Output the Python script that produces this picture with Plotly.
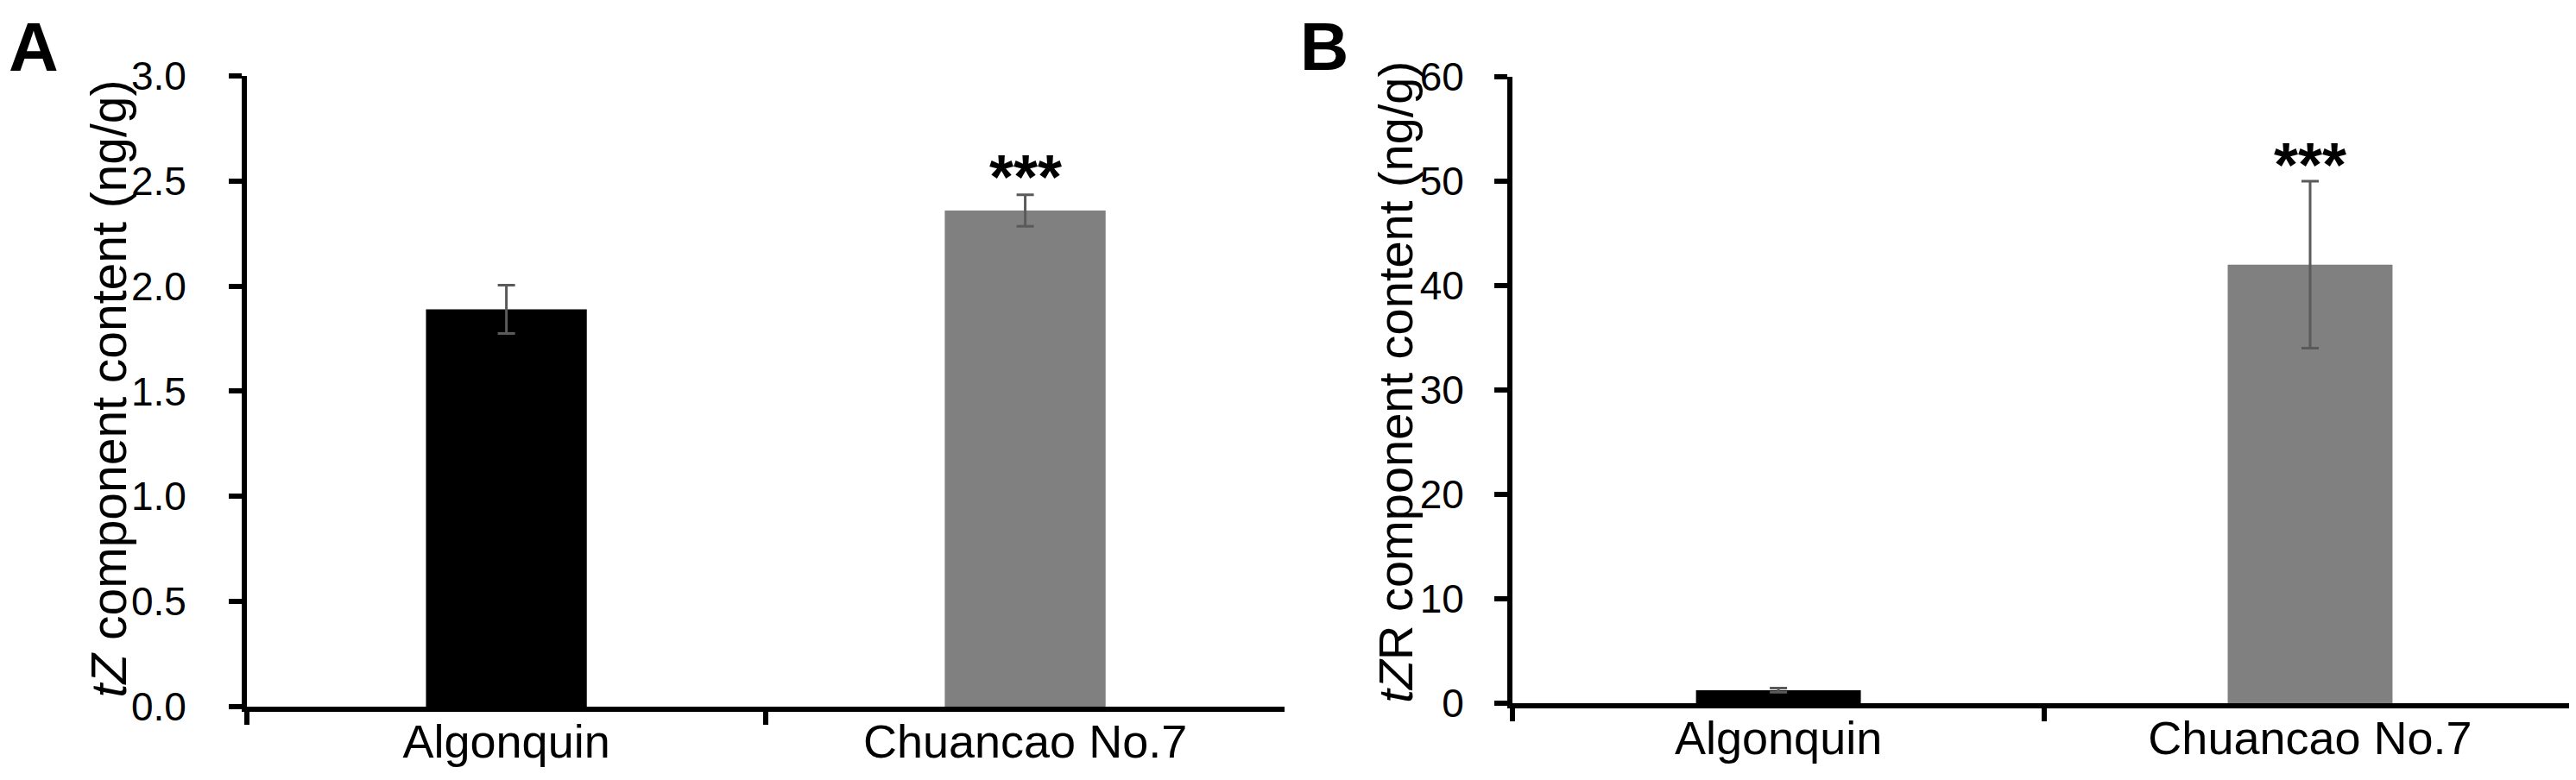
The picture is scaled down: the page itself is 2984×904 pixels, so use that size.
import plotly.graph_objects as go

categories = ['Algonquin', 'Chuancao No.7']
bar_colors = ['#000000', '#808080']

tz_mean = [1.89, 2.36]
tz_err = [0.115, 0.075]
tzr_mean = [1.25, 42.0]
tzr_err = [0.2, 8.0]

tz_ticks = [0.0, 0.5, 1.0, 1.5, 2.0, 2.5, 3.0]
tzr_ticks = [0, 10, 20, 30, 40, 50, 60]

font_family = 'Liberation Sans, Arial, sans-serif'
axis_color = 'black'
err_color = '#5a5a5a'

trace_a = go.Bar(
    x=categories,
    y=tz_mean,
    width=0.31,
    marker=dict(color=bar_colors, line=dict(width=0)),
    error_y=dict(type='data', array=tz_err, color=err_color, thickness=3, width=10),
    xaxis='x',
    yaxis='y',
    )

trace_b = go.Bar(
    x=categories,
    y=tzr_mean,
    width=0.31,
    marker=dict(color=bar_colors, line=dict(width=0)),
    error_y=dict(type='data', array=tzr_err, color=err_color, thickness=3, width=10),
    xaxis='x2',
    yaxis='y2',
    )

xaxis_style = dict(
    type='category',
    range=[-0.5, 1.5],
    showline=True,
    linecolor=axis_color,
    linewidth=6,
    ticks='outside',
    tickson='boundaries',
    ticklen=15,
    tickwidth=6,
    tickcolor=axis_color,
    tickfont=dict(size=54, color='black', family=font_family),
    ticklabelstandoff=-12,
    showgrid=False,
    zeroline=False,
    automargin=False,
    fixedrange=True,
    )

yaxis_style = dict(
    showline=True,
    linecolor=axis_color,
    linewidth=6,
    ticks='outside',
    ticklen=15,
    tickwidth=6,
    tickcolor=axis_color,
    tickfont=dict(size=46, color='black', family=font_family),
    showgrid=False,
    zeroline=False,
    automargin=False,
    fixedrange=True,
    )

layout = go.Layout(
    width=2984,
    height=904,
    margin=dict(l=0, r=0, t=0, b=0),
    paper_bgcolor='white',
    plot_bgcolor='white',
    showlegend=False,
    font=dict(family=font_family, color='black'),
    xaxis=dict(xaxis_style, domain=[0.0932, 0.496], anchor='y'),
    yaxis=dict(yaxis_style, domain=[0.1029, 0.9115], anchor='x',
               range=[0, 3], tickvals=tz_ticks, tickformat='.1f',
               ticklabelstandoff=40),
    xaxis2=dict(xaxis_style, domain=[0.5845, 0.9973], anchor='y2'),
    yaxis2=dict(yaxis_style, domain=[0.1073, 0.9104], anchor='x2',
                range=[0, 60], tickvals=tzr_ticks,
                ticklabelstandoff=26),
    annotations=[
        dict(text='<b>A</b>', x=0.0, y=1.0, xref='paper', yref='paper',
             xanchor='left', yanchor='top', showarrow=False,
             font=dict(size=80, family=font_family)),
        dict(text='<b>B</b>', x=0.5015, y=1.0, xref='paper', yref='paper',
             xanchor='left', yanchor='top', showarrow=False,
             font=dict(size=78, family=font_family)),
        dict(text='<i>tZ</i> component content (ng/g)', textangle=-90,
             x=0.0394, y=0.51, xref='paper', yref='paper',
             xanchor='center', yanchor='middle', showarrow=False,
             font=dict(size=57, family=font_family)),
        dict(text='<i>tZ</i>R component content (ng/g)', textangle=-90,
             x=0.5392, y=0.519, xref='paper', yref='paper',
             xanchor='center', yanchor='middle', showarrow=False,
             font=dict(size=56, family=font_family)),
        dict(text='<b>***</b>', x=categories[1], y=tz_mean[1] + tz_err[1],
             xref='x', yref='y', xanchor='center', yanchor='middle',
             yshift=21, showarrow=False, font=dict(size=72, family=font_family)),
        dict(text='<b>***</b>', x=categories[1], y=tzr_mean[1] + tzr_err[1],
             xref='x2', yref='y2', xanchor='center', yanchor='middle',
             yshift=19, showarrow=False, font=dict(size=72, family=font_family)),
        ],
    )

fig = go.Figure(data=[trace_a, trace_b], layout=layout)
fig.write_html('out.html')
